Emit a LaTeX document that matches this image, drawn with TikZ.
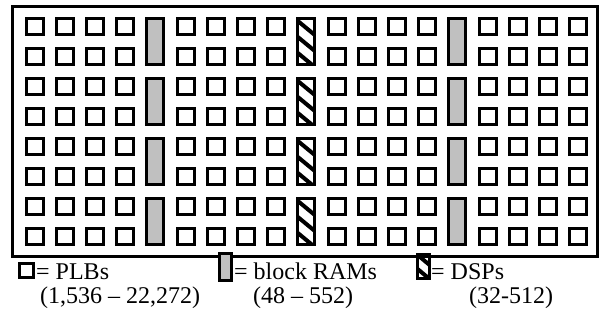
\documentclass[tikz,border=0pt]{standalone}
\usepackage{fontspec}
\setmainfont{Liberation Serif}
\definecolor{ramgray}{RGB}{192,192,192}
\begin{document}
\begin{tikzpicture}[x=1pt,y=-1pt,
  plb/.style={draw=black,line width=3pt,fill=white},
  ram/.style={draw=black,line width=3pt,fill=ramgray},
  dspbox/.style={draw=black,line width=3pt},
  stripe/.style={line width=4pt},
  frame/.style={draw=black,line width=3pt},
  lbl/.style={inner sep=0pt,anchor=base west,font=\fontsize{24}{28}\selectfont}]
\useasboundingbox (0,0) rectangle (601,323);
\draw[frame] (12,7) rectangle (597.5,256);
% PLBs
\foreach \i in {0,1,2,3,5,6,7,8,10,11,12,13,15,16,17,18}{
  \foreach \j in {0,...,7}{
    \draw[plb] ({26+30.2*\i},{18.5+30*\j}) rectangle ++(17,16);
  }
}
% block RAMs
\foreach \i in {4,14}{
  \foreach \k in {0,...,3}{
    \draw[ram] ({26+30.2*\i},{18.5+60*\k}) rectangle ++(17,46);
  }
}
% DSPs
\foreach \k in {0,...,3}{
  \begin{scope}
    \clip ({26+30.2*9},{18.5+60*\k}) rectangle ++(17,46);
    \foreach \t in {-32,-16,0,16,32,48}{
      \draw[stripe] ({23+30.2*9},{18.5+60*\k+\t}) -- ++(23,19);
    }
  \end{scope}
  \draw[dspbox] ({26+30.2*9},{18.5+60*\k}) rectangle ++(17,46);
}
% legend
\draw[plb] (19,263.5) rectangle (33,277.5);
\node[lbl] (plbtxt) at (36,279.5) {= PLBs};
\node[lbl] (plbnum) at (40,303) {(1,536 -- 22,272)};
\draw[ram] (219.5,253) rectangle (231.5,280);
\node[lbl] (ramtxt) at (234,279.5) {= block RAMs};
\node[lbl] (ramnum) at (253,303) {(48 -- 552)};
\begin{scope}
  \clip (417.5,254) rectangle (429,278);
  \foreach \t in {-16,-2,12,26}{
    \draw[stripe] (414,{254+\t}) -- ++(18,15);
  }
\end{scope}
\draw[dspbox] (417.5,254) rectangle (429,278);
\node[lbl] (dsptxt) at (431,279.5) {= DSPs};
\node[lbl] (dspnum) at (469,303) {(32-512)};
\end{tikzpicture}
\end{document}
